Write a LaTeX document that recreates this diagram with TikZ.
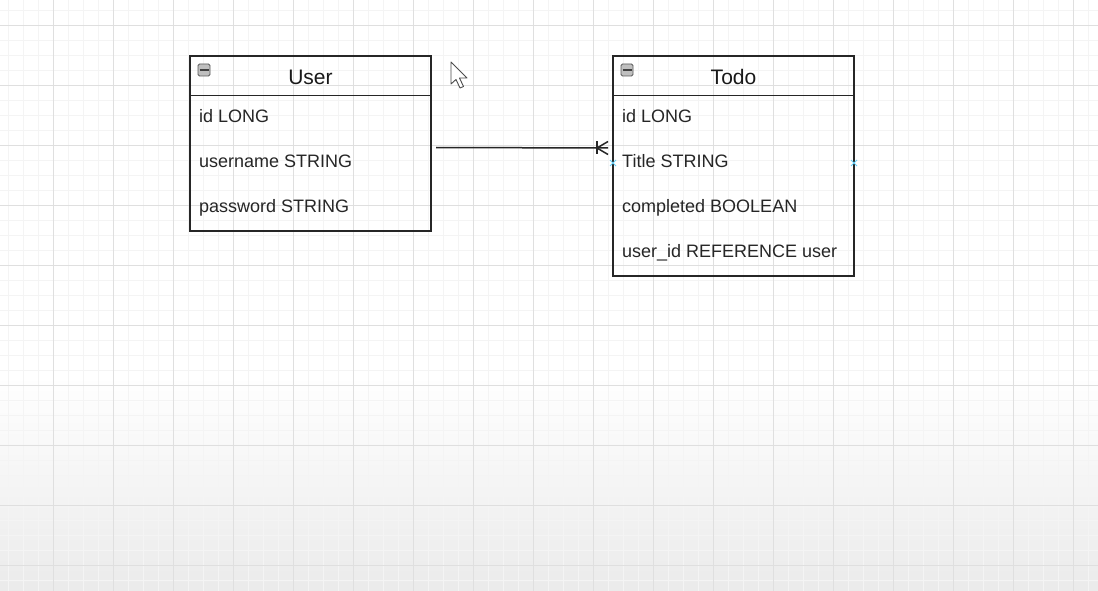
\documentclass[tikz,border=0pt]{standalone}
\usepackage{fontspec}
\setmainfont{Liberation Sans}
\usetikzlibrary{positioning}

\tikzset{
  entbox/.style={draw=black!85, line width=1.7pt, inner sep=0pt},
  rowtxt/.style={anchor=base west, inner sep=0pt, text=black!85, font=\fontsize{18}{20}\selectfont},
  headtxt/.style={anchor=base, inner sep=0pt, text=black!90, font=\fontsize{21}{24}\selectfont},
  minusbox/.style={draw=gray!70!black, fill=gray!50, rounded corners=1.5pt, line width=0.9pt, minimum size=12pt, inner sep=0pt}
}

\begin{document}
\begin{tikzpicture}[x=1pt,y=-1pt]
\useasboundingbox (0,0) rectangle (1098,591);
% background and grid
\fill[white] (0,0) rectangle (1098,591);
\shade[top color=white, bottom color=gray!16] (0,375) rectangle (1098,591);
\begin{scope}[shift={(53,25)}]
\draw[gray!9, line width=0.6pt] (-60,-60) grid[step=15pt] (1050,570);
\draw[gray!25, line width=0.9pt] (-60,-60) grid[step=60pt] (1050,570);
\end{scope}

% User entity
\node[entbox, minimum width=241pt, minimum height=175pt] (user) at (310.5,143.5) {};
\draw[black!85, line width=1.7pt] (user.west |- 0,95.5) -- (user.east |- 0,95.5);
\node[headtxt] (usertitle) at (310.5,84.5) {User};
\node[minusbox] (userminus) at (204,70) {};
\draw[black!75, line width=1.2pt] (199.5,70) -- (208.5,70);
\node[rowtxt] (uid) at (199,122.5) {id LONG};
\node[rowtxt] (uname) at (199,167.5) {username STRING};
\node[rowtxt] (upass) at (199,212.5) {password STRING};

% Todo entity
\node[entbox, minimum width=241pt, minimum height=220pt] (todo) at (733.5,166) {};
\draw[black!85, line width=1.7pt] (todo.west |- 0,95.5) -- (todo.east |- 0,95.5);
\node[headtxt] (todotitle) at (733.5,84.5) {Todo};
\node[minusbox] (todominus) at (627,70) {};
\draw[black!75, line width=1.2pt] (622.5,70) -- (631.5,70);
\node[rowtxt] (tid) at (622,122.5) {id LONG};
\node[rowtxt] (ttitle) at (622,167.5) {Title STRING};
\node[rowtxt] (tdone) at (622,212.5) {completed BOOLEAN};
\node[rowtxt] (tuser) at (622,257.5) {user\_id REFERENCE user};

% relation, one to many
\coordinate (relstart) at (436,147.5);
\coordinate (relend) at (608,148);
\draw[black!85, line width=1.5pt] (relstart) -- (relend);
\draw[black!85, line width=1.5pt] ([xshift=-11pt]relend) ++(0,-6.5) -- ++(0,13);
\draw[black!85, line width=1.5pt] (relend) ++(0,-6.5) -- ([xshift=-11pt]relend) -- ++(11,6.5);

% connection marks
\foreach \px in {613,854}
  \draw[cyan!60, line width=1pt] (\px-3,160) -- (\px+3,166) (\px-3,166) -- (\px+3,160);

% mouse pointer
\draw[fill=white, draw=black!70, line width=0.9pt, line join=round]
  (451,62) -- (451,84) -- (456,79.5) -- (460,88) -- (463.5,86.5) -- (459.5,78) -- (467,78) -- cycle;
\end{tikzpicture}
\end{document}
